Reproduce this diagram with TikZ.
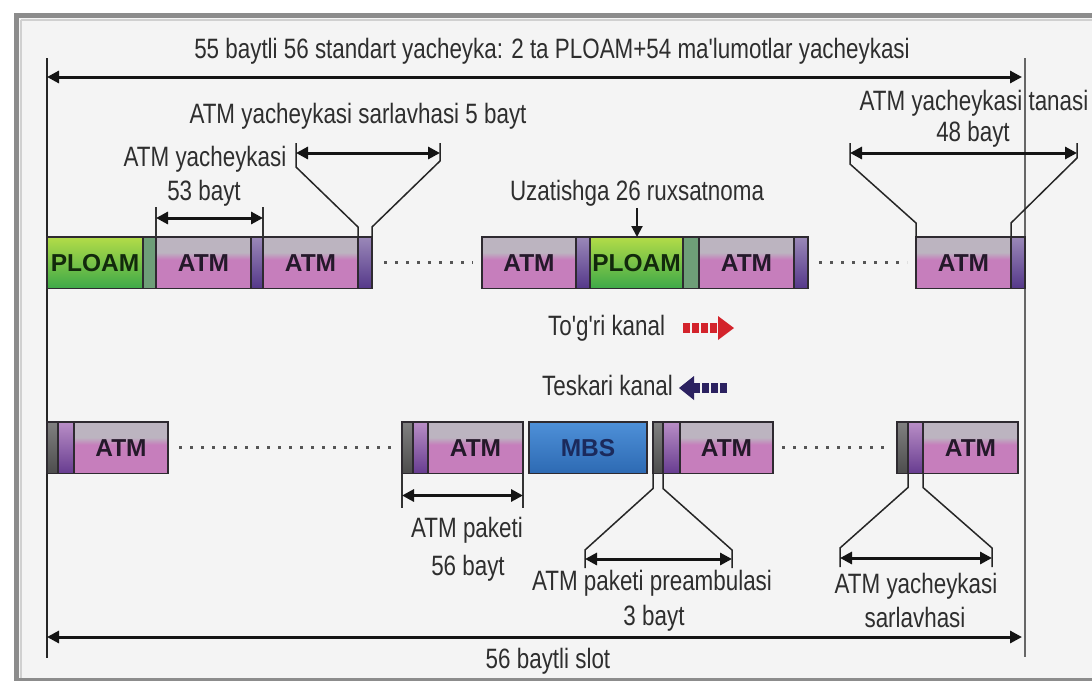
\documentclass[tikz,border=0pt]{standalone}
\usepackage{fontspec}
\usetikzlibrary{arrows.meta,calc}
\newfontfamily\condf{Liberation Sans}[FakeStretch=0.80]
\newfontfamily\boxf{Liberation Sans}
\definecolor{bgc}{HTML}{F4F4F4}
\definecolor{framec}{HTML}{8C8C8C}
\definecolor{framelt}{HTML}{D0D0D0}
\definecolor{txtc}{HTML}{2E2E2E}
\definecolor{boxline}{HTML}{2E2A30}
\definecolor{boxtext}{HTML}{24192A}
\definecolor{atmpink}{HTML}{C67EBC}
\definecolor{atmgray}{HTML}{BCB4C0}
\definecolor{ploamtop}{HTML}{B3DC48}
\definecolor{ploambot}{HTML}{3DA948}
\definecolor{ploamtext}{HTML}{12290C}
\definecolor{ploamstripc}{HTML}{6E9E78}
\definecolor{hdrtop}{HTML}{9A88B8}
\definecolor{hdrbot}{HTML}{55388A}
\definecolor{pretop}{HTML}{808080}
\definecolor{prebot}{HTML}{4C4C4C}
\definecolor{hdrtwotop}{HTML}{B98EC6}
\definecolor{hdrtwobot}{HTML}{673C90}
\definecolor{mbstop}{HTML}{4E90D8}
\definecolor{mbsbot}{HTML}{2D6AB3}
\definecolor{mbstext}{HTML}{1B2A5C}
\definecolor{redc}{HTML}{D3232B}
\definecolor{navyc}{HTML}{2B2160}
\definecolor{dotc}{HTML}{555555}
\pgfdeclareverticalshading{atmshade}{100bp}{color(0bp)=(atmpink); color(25bp)=(atmpink); color(53bp)=(atmpink); color(60bp)=(atmgray); color(75bp)=(atmgray); color(100bp)=(atmgray)}
\newcommand\cellat[6]{\node[#1, minimum width={(#4)-(#3)}] (#2) at (#3,#5) {#6};}
\tikzset{
  cellbase/.style={anchor=north west, inner sep=0pt, outer sep=0pt, draw=boxline, line width=1.6pt,
    minimum height=51.5pt, font=\boxf\bfseries\fontsize{24.5}{24}\selectfont, text=boxtext},
  atmbody/.style={cellbase, shade, shading=atmshade},
  ploambody/.style={cellbase, top color=ploamtop, bottom color=ploambot, text=ploamtext},
  ploamstrip/.style={cellbase, fill=ploamstripc},
  hdrstrip/.style={cellbase, top color=hdrtop, bottom color=hdrbot},
  prestrip/.style={cellbase, top color=pretop, bottom color=prebot},
  hdrtwostrip/.style={cellbase, top color=hdrtwotop, bottom color=hdrtwobot},
  mbsbody/.style={cellbase, top color=mbstop, bottom color=mbsbot, text=mbstext},
  lbl/.style={font=\condf\fontsize{28}{32}\selectfont, text=txtc, inner sep=0pt, anchor=base},
  dim/.style={{Triangle[length=12pt,width=12pt]}-{Triangle[length=12pt,width=12pt]}, line width=3pt, draw=black!92},
  tick/.style={line width=1.1pt, draw=black!80},
  funnel/.style={line width=1.5pt, draw=black!85, line join=round},
  dotline/.style={draw=dotc, line width=3pt, dash pattern=on 3pt off 8pt},
}
\begin{document}
\begin{tikzpicture}[x=1pt,y=-1pt]
\useasboundingbox (0,0) rectangle (1092,681);
% background and frame
\fill[white] (0,0) rectangle (1092,681);
\fill[bgc] (16,15) rectangle (1110,679);
\draw[framelt, line width=2pt] (21,20) -- (1110,20);
\draw[framelt, line width=2pt] (21,20) -- (21,679);
\draw[framec, line width=5pt] (1110,15) -- (16,15) -- (16,681);
\draw[framec, line width=3pt] (16,679.5) -- (1110,679.5);

% guide verticals
\coordinate (vlT) at (47,58); \coordinate (vlB) at (47,658);
\coordinate (vrT) at (1025,58); \coordinate (vrB) at (1025,657);
\draw[line width=1.6pt, black!85] (vlT) -- (vlB);
\draw[line width=1.2pt, black!60] (vrT) -- (vrB);

% top span
\coordinate (topL) at (47,77); \coordinate (topR) at (1022,77);
\draw[dim] (topL) -- (topR);
\node[lbl] (title) at (552,58) {55 baytli 56 standart yacheyka: 2 ta PLOAM+54 ma'lumotlar yacheykasi};

% row 1
\cellat{ploambody}{p1}{47}{143}{237}{PLOAM}
\cellat{ploamstrip}{p1s}{143}{156}{237}{}
\cellat{atmbody}{a1}{156}{251}{237}{ATM}
\cellat{hdrstrip}{a1s}{251}{263}{237}{}
\cellat{atmbody}{a2}{263}{358}{237}{ATM}
\cellat{hdrstrip}{a2s}{358}{372}{237}{}
\cellat{atmbody}{a3}{482}{576}{237}{ATM}
\cellat{hdrstrip}{a3s}{576}{590}{237}{}
\cellat{ploambody}{p2}{590}{683}{237}{PLOAM}
\cellat{ploamstrip}{p2s}{683}{699}{237}{}
\cellat{atmbody}{a4}{699}{794}{237}{ATM}
\cellat{hdrstrip}{a4s}{794}{808}{237}{}
\cellat{atmbody}{a5}{916}{1011}{237}{ATM}
\cellat{hdrstrip}{a5s}{1011}{1025}{237}{}
\draw[dotline] ([xshift=12pt]a2s.east) -- ([xshift=-9pt]a3.west);
\draw[dotline] ([xshift=11pt]a4s.east) -- ([xshift=-9pt]a5.west);

% 53 bayt
\draw[tick] (a1.north west) -- ++(0,-30);
\draw[tick] (a1s.north east) -- ++(0,-30);
\draw[dim] ($(a1.north west)+(0,-19)$) -- ($(a1s.north east)+(0,-19)$);
\node[lbl] (l53a) at (205,166) {ATM yacheykasi};
\node[lbl] (l53b) at (204,200) {53 bayt};

% 5 bayt header funnel
\coordinate (h5L) at (296,153); \coordinate (h5R) at (440,153);
\draw[funnel] (a2s.north west) -- ++(0,-10) -- (296,167) -- (296,143);
\draw[funnel] (a2s.north east) -- ++(0,-10) -- (440,161) -- (440,143);
\draw[dim] (h5L) -- (h5R);
\node[lbl] (l5) at (358,123) {ATM yacheykasi sarlavhasi 5 bayt};

% 48 bayt body funnel
\coordinate (h48L) at (850,153); \coordinate (h48R) at (1077,153);
\draw[funnel] (a5.north west) -- ++(0,-14) -- (850,164) -- (850,143);
\draw[funnel] (a5.north east) -- ++(0,-14) -- (1077,158) -- (1077,143);
\draw[dim] (h48L) -- (h48R);
\node[lbl] (l48a) at (974,110) {ATM yacheykasi tanasi};
\node[lbl] (l48b) at (973,141) {48 bayt};

% grant
\node[lbl] (grant) at (637,200) {Uzatishga 26 ruxsatnoma};
\draw[line width=2pt, black!90, -{Triangle[length=11pt,width=11pt]}] (637,208) -- ($(p2.north west)+(47,0)$);

% channels
\node[lbl, anchor=base west] (fwd) at (548,335) {To'g'ri kanal};
\foreach \i in {0,1,2,3} \fill[redc] (683+9*\i,323) rectangle ++(7,10);
\fill[redc] (718,316) -- (734,328) -- (718,340) -- cycle;
\node[lbl, anchor=base west] (rev) at (542,395) {Teskari kanal};
\fill[navyc] (679,388) -- (694,376) -- (694,400) -- cycle;
\foreach \i in {0,1,2,3} \fill[navyc] (693+9*\i,383) rectangle ++(7,10);

% row 2
\cellat{prestrip}{b1g}{47}{58}{422}{}
\cellat{hdrtwostrip}{b1p}{58}{74}{422}{}
\cellat{atmbody}{b1}{74}{168}{422}{ATM}
\cellat{prestrip}{b2g}{402}{413}{422}{}
\cellat{hdrtwostrip}{b2p}{413}{428}{422}{}
\cellat{atmbody}{b2}{428}{523}{422}{ATM}
\cellat{mbsbody}{m}{529}{647}{422}{MBS}
\cellat{prestrip}{b3g}{653}{663}{422}{}
\cellat{hdrtwostrip}{b3p}{663}{680}{422}{}
\cellat{atmbody}{b3}{680}{773}{422}{ATM}
\cellat{prestrip}{b4g}{897}{908}{422}{}
\cellat{hdrtwostrip}{b4p}{908}{923}{422}{}
\cellat{atmbody}{b4}{923}{1018}{422}{ATM}
\draw[dotline] ([xshift=11pt]b1.east) -- ([xshift=-8pt]b2g.west);
\draw[dotline] ([xshift=9pt]b3.east) -- ([xshift=-6pt]b4g.west);

% ATM paketi 56 bayt
\draw[tick] (b2g.south west) -- ++(0,34);
\draw[tick] (b2.south east) -- ++(0,34);
\draw[dim] ($(b2g.south west)+(0,22)$) -- ($(b2.south east)+(0,22)$);
\node[lbl] (lpa) at (467,537) {ATM paketi};
\node[lbl] (lpb) at (468,575) {56 bayt};

% preamble funnel
\coordinate (prL) at (585,559); \coordinate (prR) at (732,559);
\draw[funnel] (b3g.south west) -- ++(0,15) -- (585,550) -- (585,568);
\draw[funnel] (b3g.south east) -- ++(0,15) -- (732,550) -- (732,568);
\draw[dim] (prL) -- (prR);
\node[lbl] (lpra) at (652,590) {ATM paketi preambulasi};
\node[lbl] (lprb) at (654,625) {3 bayt};

% header funnel row 2
\coordinate (hdL) at (840,558); \coordinate (hdR) at (992,558);
\draw[funnel] (b4p.south west) -- ++(0,14) -- (840,548) -- (840,567);
\draw[funnel] (b4p.south east) -- ++(0,14) -- (992,548) -- (992,567);
\draw[dim] (hdL) -- (hdR);
\node[lbl] (lhda) at (916,593) {ATM yacheykasi};
\node[lbl] (lhdb) at (915,627) {sarlavhasi};

% bottom span
\coordinate (botL) at (47,637); \coordinate (botR) at (1022,637);
\draw[dim] (botL) -- (botR);
\node[lbl] (slot) at (548,668) {56 baytli slot};
\end{tikzpicture}
\end{document}
